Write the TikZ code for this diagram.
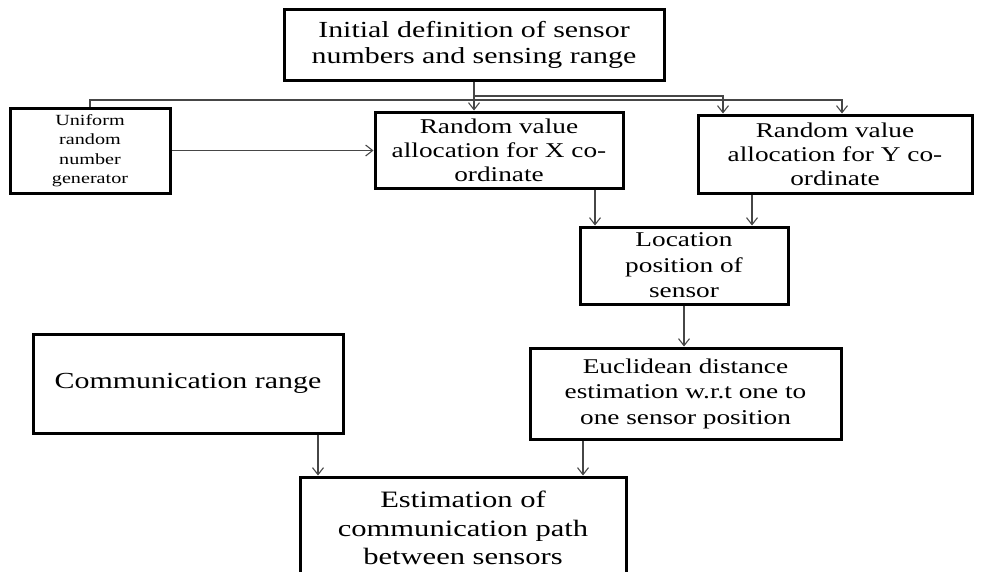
\documentclass[tikz,border=0pt]{standalone}
\usepackage{fontspec}
\setmainfont{Liberation Serif}[FakeStretch=1.3]
\usetikzlibrary{arrows.meta}
\definecolor{wire}{RGB}{70,70,70}
\tikzstyle{block}=[draw=black, line width=3pt, rectangle, align=center, inner sep=0pt]
\tikzstyle{link}=[draw=wire, line width=1.1pt, -{Straight Barb[length=7pt,width=11pt]}]
\tikzstyle{line}=[draw=wire, line width=1.1pt]

\begin{document}
\begin{tikzpicture}[x=1pt,y=-1pt]
\clip (0,0) rectangle (982,571);

% boxes
\node[block, minimum width=380pt, minimum height=71pt, font=\fontsize{23}{26}\selectfont] (init) at (474,44.5) {Initial definition of sensor\\numbers and sensing range};
\node[block, minimum width=160pt, minimum height=85pt, font=\fontsize{15.5}{19.5}\selectfont] (unif) at (90,150.5) {Uniform\\random\\number\\generator};
\node[block, minimum width=248pt, minimum height=76pt, font=\fontsize{21}{24}\selectfont] (randx) at (499,150) {Random value\\allocation for X co-\\ordinate};
\node[block, minimum width=274pt, minimum height=78pt, font=\fontsize{21}{24}\selectfont] (randy) at (835,154) {Random value\\allocation for Y co-\\ordinate};
\node[block, minimum width=208pt, minimum height=77pt, font=\fontsize{21}{25.5}\selectfont] (loc) at (684,265.5) {Location\\position of\\sensor};
\node[block, minimum width=311pt, minimum height=91pt, font=\fontsize{21}{25.5}\selectfont] (eucl) at (685.5,393.5) {Euclidean distance\\estimation w.r.t one to\\one sensor position};
\node[block, minimum width=310pt, minimum height=99pt, font=\fontsize{23}{26}\selectfont] (comm) at (188,383.5) {Communication range};
\node[block, minimum width=326pt, minimum height=102pt, font=\fontsize{23.5}{28.5}\selectfont] (est) at (463,528) {Estimation of\\communication path\\between sensors};

% fork under the first box
\coordinate (forkA) at (474,96);
\coordinate (forkB) at (474,100);
\draw[link] (init.south) -- (init.south |- randx.north);
\draw[line] (forkB) -| (unif.north);
\draw[link] (forkA) -| ([xshift=-112pt]randy.north);
\draw[link] (forkB) -| ([xshift=7pt]randy.north);

% main flow
\draw[link] (unif.east) -- (unif.east -| randx.west);
\draw[link] ([xshift=96pt]randx.south) -- ([xshift=96pt]randx.south |- loc.north);
\draw[link] ([xshift=-83pt]randy.south) -- ([xshift=-83pt]randy.south |- loc.north);
\draw[link] (loc.south) -- (loc.south |- eucl.north);
\draw[link] ([xshift=130pt]comm.south) -- ([xshift=130pt]comm.south |- est.north);
\draw[link] ([xshift=-102.5pt]eucl.south) -- ([xshift=-102.5pt]eucl.south |- est.north);
\end{tikzpicture}
\end{document}
